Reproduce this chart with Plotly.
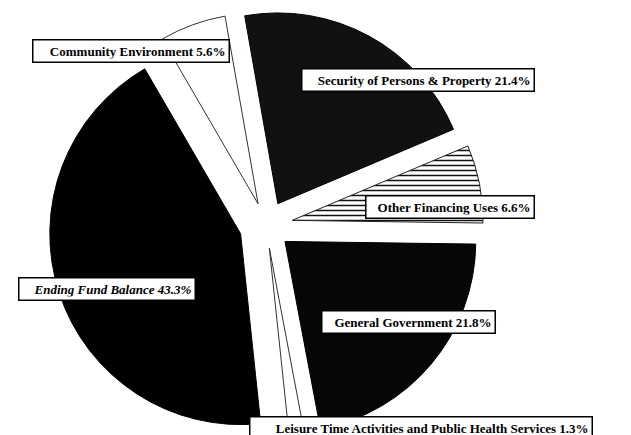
import plotly.graph_objects as go

# ---- data ----
categories = [
    "Security of Persons & Property",
    "Other Financing Uses",
    "General Government",
    "Leisure Time Activities and Public Health Services",
    "Ending Fund Balance",
    "Community Environment",
]
shares = [21.4, 6.6, 21.8, 1.3, 43.3, 5.6]
pulls = [0.13, 0.14, 0.13, 0.12, 0.14, 0.12]
slice_colors = ["#111111", "#ffffff", "#060606", "#ffffff", "#000000", "#ffffff"]
edge_colors = ["#000000", "#222222", "#000000", "#333333", "#000000", "#333333"]
pattern_shapes = ["", "-", "", "", "", ""]

# label boxes: (left, right, centre-y) in px of the 631x435 page
label_boxes = [(293, 527, 72), (357, 527, 199), (313, 488, 314),
               (241, 585, 420), (10, 188, 281), (24, 222, 43)]
label_italic = [False, False, False, False, True, False]

W, H = 631, 435
cx = 258

fig = go.Figure(
    go.Pie(
        labels=categories,
        values=shares,
        sort=False,
        direction="clockwise",
        rotation=-10,
        pull=pulls,
        textinfo="none",
        showlegend=False,
        marker=dict(
            colors=slice_colors,
            line=dict(color=edge_colors, width=1),
            pattern=dict(shape=pattern_shapes, fgcolor="#111111", size=5, solidity=0.3),
        ),
        domain=dict(x=[(cx - H / 2) / W, (cx + H / 2) / W], y=[0, 1]),
    )
)

annotations = []
for cat, val, (bl, br, by), it in zip(categories, shares, label_boxes, label_italic):
    txt = f"{cat} {val}%"
    txt = f"<b><i>{txt}</i></b>" if it else f"<b>{txt}</b>"
    annotations.append(
        dict(
            x=(bl + br) / 2 / W,
            y=1 - by / H,
            xref="paper",
            yref="paper",
            text=txt,
            showarrow=False,
            width=(br - bl) - 9,
            align="right",
            font=dict(family="Liberation Serif", size=13, color="black"),
            bgcolor="white",
            bordercolor="black",
            borderwidth=1.5,
            borderpad=3,
            xanchor="center",
            yanchor="middle",
        )
    )

fig.update_layout(
    width=W,
    height=H,
    margin=dict(l=0, r=0, t=0, b=0),
    paper_bgcolor="white",
    plot_bgcolor="white",
    annotations=annotations,
)

fig.write_html("out.html")
